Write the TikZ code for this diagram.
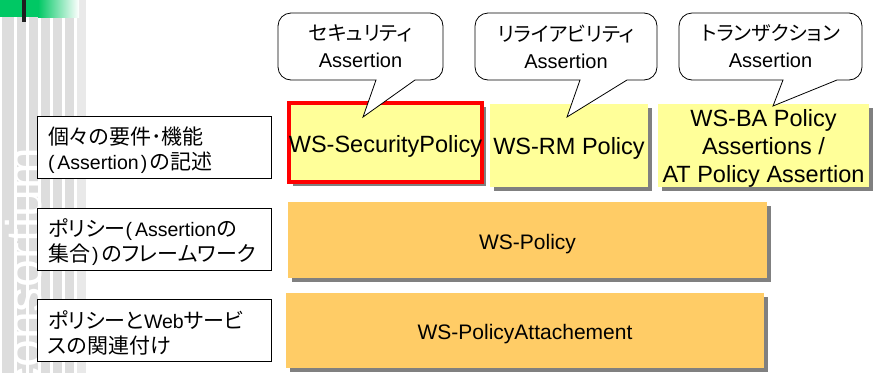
\documentclass[tikz,border=0pt]{standalone}
\usepackage{fontspec}
\setmainfont{Liberation Sans}
\newfontfamily\jpfont[RawFeature=+palt]{Noto Sans CJK JP}
\usetikzlibrary{shadows}

% Japanese runs inside the label boxes and inside the speech bubbles
\newcommand\jl[1]{{\jpfont\fontsize{21}{25}\selectfont #1}}
\newcommand\jc[1]{{\jpfont\fontsize{20}{27}\selectfont #1}}
% parentheses set a little wider, as in the labels
\newcommand\lp{(\kern3pt}
\newcommand\rp{\kern2pt)\kern3pt}

\definecolor{stripegray}{HTML}{DDDDDD}
\definecolor{stripelight}{HTML}{E9E9E9}
\definecolor{brandgreen}{HTML}{00C864}
\definecolor{yfill}{HTML}{FFFF99}
\definecolor{ofill}{HTML}{FFCC66}
\definecolor{shadowgray}{HTML}{808080}

\begin{document}
\begin{tikzpicture}[x=1pt,y=-1pt,
  lblbox/.style={draw=black, line width=0.9pt, fill=white,
    minimum width=234pt, minimum height=62pt, inner sep=0pt},
  lbltext/.style={text width=212pt, inner sep=0pt, align=left,
    font=\fontsize{19.5}{25}\selectfont},
  boxshadow/.style={drop shadow={shadow xshift=4pt, shadow yshift=-4pt,
    fill=shadowgray, opacity=1}},
  ybox/.style={fill=yfill, minimum height=83pt, inner sep=0pt, boxshadow},
  ytext/.style={inner sep=0pt, align=center, font=\fontsize{23.5}{28}\selectfont},
  obox/.style={fill=ofill, inner sep=0pt, boxshadow},
  otext/.style={inner sep=0pt, align=center, font=\fontsize{21}{26}\selectfont},
  bubble/.style={draw=black, line width=0.8pt, fill=white},
  bubbletext/.style={align=center, inner sep=0pt,
    font=\fontsize{20}{27}\selectfont}
]
\useasboundingbox (0,0) rectangle (874,373);

% slide template: vertical stripes on the left edge
\begin{scope}
  \clip (0,0) rectangle (874,373);
  \fill[stripegray] (2,0) rectangle (14,373);
  \foreach \x in {17,29,41,53,65}
    \fill[stripegray] (\x,0) rectangle (\x+9,373);
  \fill[stripelight] (77,0) rectangle (86,373);
  \node[rotate=90, anchor=base east, inner sep=0pt, text=white,
        font=\fontsize{50}{50}\selectfont] (wm) at (41,148) {consortium};
  % green title bar with a dark tick
  \fill[brandgreen] (0,0) rectangle (38,17);
  \shade[left color=brandgreen, right color=white] (38,0) rectangle (79,17);
  \fill[black!88] (22,0) rectangle (26,22);
\end{scope}

% layer labels
\node[lblbox] (l1) at (154,147) {};
\node[lbltext] (l1t) at ([yshift=-3pt]l1.center)
  {\jl{個々の要件･機能}\\\lp Assertion\rp\jl{の記述}};
\node[lblbox] (l2) at (154,239) {};
\node[lbltext] (l2t) at ([yshift=-3pt]l2.center)
  {\jl{ポリシー}\lp Assertion\jl{の}\\\jl{集合}\rp\jl{のフレームワーク}};
\node[lblbox] (l3) at (154,330) {};
\node[lbltext] (l3t) at ([yshift=-3pt]l3.center)
  {\jl{ポリシーと}Web\jl{サービ}\\\jl{スの関連付け}};

% assertion boxes
\node[ybox, draw=red, line width=4pt, minimum width=193pt, minimum height=79pt]
  (sec) at (385.5,142.5) {};
\node[ytext] (sect) at ([yshift=-4pt]sec.center) {WS-SecurityPolicy};
\node[ybox, minimum width=158pt] (rm) at (569,145.5) {};
\node[ytext] (rmt) at ([yshift=-3pt]rm.center) {WS-RM Policy};
\node[ybox, minimum width=211pt] (ba) at (763.5,145.5) {};
\node[ytext] (bat) at ([yshift=-3pt]ba.center)
  {WS-BA Policy\\Assertions /\\AT Policy Assertion};

% framework and attachment layers
\node[obox, minimum width=479pt, minimum height=76pt] (pol) at (527.5,240) {};
\node[otext] (polt) at ([yshift=-4pt]pol.center) {WS-Policy};
\node[obox, minimum width=478pt, minimum height=75pt] (att) at (525,330.5) {};
\node[otext] (attt) at ([yshift=-4pt]att.center) {WS-PolicyAttachement};

% speech bubbles: rounded box with a wedge pointing into the box below
\coordinate (t1) at (363,117);
\coordinate (t2) at (567,117);
\coordinate (t3) at (773,106);
\foreach \xa/\xb/\bl/\br/\tip in {278/443/376/415/t1, 475/657/580/627/t2, 679/862/783/837/t3}{
  \draw[bubble] (\bl,80) -- (\xa+13,80) arc[start angle=90,end angle=180,radius=13]
    -- (\xa,26) arc[start angle=180,end angle=270,radius=13]
    -- (\xb-13,13) arc[start angle=270,end angle=360,radius=13]
    -- (\xb,67) arc[start angle=0,end angle=90,radius=13]
    -- (\br,80) -- (\tip) -- cycle;
}
\node[bubbletext] (c1) at (360.5,46.5) {\jc{セキュリティ}\\Assertion};
\node[bubbletext] (c2) at (566,46.5) {\jc{リライアビリティ}\\Assertion};
\node[bubbletext] (c3) at (770.5,46.5) {\jc{トランザクション}\\Assertion};
\end{tikzpicture}
\end{document}
